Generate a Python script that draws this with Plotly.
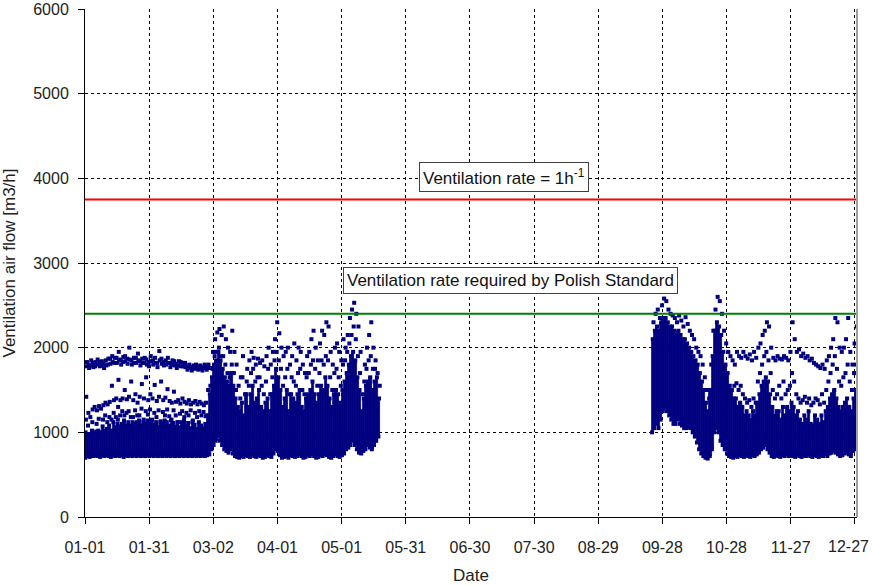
import plotly.graph_objects as go

# ---------------- data ----------------
tick_days = [0, 30, 60, 90, 120, 150, 180, 210, 240, 270, 300, 330, 360]
tick_labels = ["01-01", "01-31", "03-02", "04-01", "05-01", "05-31", "06-30",
               "07-30", "08-29", "09-28", "10-28", "11-27", "12-27"]

rate_1h = 3750          # ventilation rate = 1 h^-1
rate_standard = 2400    # rate required by Polish Standard

# heating season 1 (Jan - May): day index from 01-01
spring_start = 0
spring_lo = [700, 720, 710, 720, 720, 730, 720, 710, 730, 720,
             730, 720, 710, 730, 720, 730, 720, 730, 710, 730,
             720, 730, 720, 730, 720, 730, 720, 730, 720, 730,
             720, 730, 720, 730, 720, 730, 720, 730, 720, 730,
             720, 730, 720, 730, 720, 730, 720, 730, 720, 730,
             720, 730, 720, 730, 720, 730, 720, 730,
             740, 800, 850, 900, 950, 900, 850, 800, 780, 760,
             800, 750, 720, 710, 700, 720, 710, 730, 720, 710,
             740, 720, 710, 730, 720, 700, 710, 730, 720, 710,
             750, 800, 780, 730, 700, 710, 720, 700, 730, 720,
             710, 720, 740, 720, 700, 710, 730, 720, 750, 720,
             700, 710, 730, 720, 750, 730, 710, 700, 720, 740,
             720, 710, 730, 750, 800, 820, 850, 900, 850, 800,
             760, 750, 780, 800, 850, 820, 800, 850, 900, 950]
spring_hi = [1000, 970, 980, 1020, 990, 1010, 1020, 1000, 1070, 1020,
             1040, 1080, 1020, 1120, 1060, 1100, 1070, 1100, 1140, 1080,
             1120, 1080, 1120, 1100, 1120, 1140, 1080, 1120, 1100, 1140,
             1120, 1140, 1090, 1120, 1070, 1120, 1100, 1140, 1120, 1080,
             1140, 1110, 1070, 1120, 1060, 1120, 1140, 1080, 1110, 1050,
             1120, 1090, 1040, 1120, 1080, 1050, 1100, 1200,
             1450, 1650, 1800, 1850, 1950, 1850, 1750, 1650, 1600, 1550,
             1700, 1550, 1400, 1300, 1250, 1350, 1200, 1450, 1300, 1450,
             1550, 1350, 1400, 1500, 1300, 1250, 1350, 1400, 1250, 1450,
             1550, 1750, 1650, 1500, 1300, 1400, 1500, 1250, 1450, 1400,
             1350, 1450, 1500, 1300, 1250, 1400, 1450, 1500, 1600, 1450,
             1350, 1450, 1550, 1500, 1650, 1550, 1400, 1300, 1450, 1500,
             1450, 1350, 1500, 1600, 1700, 1800, 1900, 1950, 1850, 1650,
             1500, 1250, 1400, 1550, 1600, 1650, 1500, 1600, 1650, 1400]
spring_extra = [
    [1150, 1420, 1780, 1830], [1080, 1230, 1800, 1760], [1180, 1790, 1850], [1120, 1270, 1820, 1770],
    [1300, 1780, 1830], [1100, 1260, 1800, 1860], [1160, 1310, 1830, 1780], [1280, 1790, 1840],
    [1150, 1320, 1810, 1760], [1200, 1350, 1850, 1790], [1120, 1330, 1800, 1870], [1180, 1360, 1870, 1810],
    [1150, 1550, 1900, 1830], [1230, 1380, 1820, 1880], [1180, 1400, 1880, 1820], [1150, 1300, 1620, 1950, 1850],
    [1200, 1380, 1860, 1800], [1250, 1400, 1830, 1890], [1200, 1500, 1900, 1840], [1230, 1390, 1870, 1810],
    [1250, 1420, 2000, 1860], [1180, 1600, 1850, 1800], [1180, 1380, 1820, 1880], [1260, 1450, 1880, 1820],
    [1200, 1350, 1930, 1850], [1200, 1420, 1840, 1790], [1280, 1570, 1870, 1820], [1150, 1400, 1820, 1880],
    [1250, 1650, 1860, 1800], [1210, 1380, 1830, 1780], [1270, 1450, 1900, 1840], [1150, 1400, 1850, 1800],
    [1230, 1560, 1880, 1820], [1180, 1370, 1820, 1770], [1260, 1420, 1960, 1850], [1130, 1600, 1870, 1810],
    [1240, 1380, 1830, 1790], [1200, 1410, 1850, 1800], [1270, 1510, 1880, 1820], [1190, 1370, 1820, 1770],
    [1150, 1350, 1800, 1850], [1260, 1480, 1840, 1790], [1200, 1360, 1810, 1760], [1120, 1380, 1790, 1840],
    [1220, 1340, 1830, 1780], [1250, 1400, 1780, 1820], [1180, 1360, 1820, 1770], [1230, 1340, 1780, 1740],
    [1200, 1380, 1800, 1760], [1260, 1330, 1770, 1730], [1140, 1350, 1790, 1750], [1230, 1370, 1760, 1800],
    [1180, 1330, 1780, 1740], [1250, 1360, 1750, 1790], [1200, 1340, 1770, 1730], [1240, 1320, 1760, 1800],
    [1190, 1350, 1780, 1740], [1200, 1500, 1800, 1760],
    [1550, 1760], [1750, 1950], [1900, 2100], [1950, 2180], [2000, 2220], [1900, 2150], [1900, 2250],
    [1800, 2100], [1700, 2000], [1650, 1950], [1800, 2200], [1700, 1950], [1500, 1800], [1550],
    [1400, 1650], [1650, 1900], [1450], [1600, 1750], [1550, 1850], [1700, 1950], [1750, 1880],
    [1600, 1800], [1650, 1870], [1650, 1820], [1550, 1850], [1450, 1780], [1600, 1900], [1750, 2000],
    [1450, 1800], [1650, 1950], [1850, 2100], [1950, 2300], [1850, 2170], [1750, 2000], [1550, 1900],
    [1650, 1950], [1750, 2000], [1450, 1800], [1650, 1900], [1600, 2050], [1550, 1850], [1700, 2000],
    [1750, 1950], [1500, 1800], [1450, 1700], [1650, 1900], [1700, 1950], [1800, 2100], [1850, 2200],
    [1750, 2000], [1550, 1850], [1700, 2050], [1850, 2200], [1800, 2150], [1900, 2300], [1850, 2250],
    [1650, 1950], [1500, 1800], [1700, 2000], [1750, 2050], [1650, 1950], [1550, 1850], [1800, 2100],
    [1850, 2000], [1950, 2150], [2050, 2350], [2150, 2450], [2250, 2530], [2100, 2400], [1900, 2250],
    [1700, 1950], [1450], [1600, 1800], [1750, 2000], [1850, 2150], [1900, 2300], [1750, 2000],
    [1750, 1850], [1700], [1550]]

# heating season 2 (Sep - Dec)
autumn_start = 265
autumn_lo = [1000, 1050, 1100, 1050, 1150, 1250, 1300, 1250, 1200, 1150,
             1100, 1100, 1150, 1100, 1080, 1050, 1050, 1060, 1050, 1000,
             950, 880, 800, 750, 720, 700, 690, 720, 800, 1000,
             1050, 1000, 900, 850, 800, 750, 720, 710, 700, 720,
             710, 730, 720, 710, 730, 720, 710, 730, 720, 740,
             760, 800, 820, 850, 800, 760, 720, 710, 730, 720,
             710, 730, 720, 740, 720, 730, 720, 710, 730, 720,
             710, 730, 720, 740, 720, 710, 730, 720, 710, 730,
             720, 740, 720, 750, 760, 780, 760, 740, 720, 730,
             750, 760, 740, 720, 780, 800]
autumn_hi = [2100, 2200, 2250, 2200, 2300, 2350, 2350, 2300, 2250, 2250,
             2200, 2150, 2200, 2150, 2100, 2100, 2050, 2000, 1950, 1900,
             1850, 1800, 1700, 1600, 1500, 1350, 1250, 1500, 1900, 2200,
             2300, 2250, 2150, 1950, 1800, 1700, 1550, 1500, 1400, 1400,
             1300, 1350, 1300, 1200, 1250, 1200, 1150, 1250, 1200, 1350,
             1450, 1550, 1600, 1650, 1600, 1450, 1300, 1200, 1250, 1250,
             1150, 1300, 1200, 1300, 1250, 1350, 1300, 1200, 1250, 1150,
             1100, 1200, 1150, 1250, 1100, 1080, 1200, 1150, 1100, 1200,
             1120, 1250, 1300, 1400, 1450, 1500, 1400, 1300, 1250, 1300,
             1350, 1400, 1300, 1250, 1400, 1500]
autumn_extra = [
    [2300], [2400], [2450], [2350], [2500], [2580], [2550], [2450], [2400], [2380],
    [2350], [2300], [2380], [2320], [2250], [2360], [2280], [2200], [2150], [2100],
    [2000], [1950], [1900], [1800], [1650], [1500], [1400], [1800], [2200], [2450],
    [2600], [2550], [2400], [2200], [2050], [1950], [1900], [1850], [1550, 1800], [1580, 1950],
    [1500, 1900], [1550, 1880], [1450, 1950], [1400, 1900], [1350, 1870], [1380, 1920], [1300, 1850],
    [1400, 1950], [1350, 1880], [1600, 2000],
    [1700, 2050], [1800, 2150], [1900, 2200], [1950, 2300], [1850, 2250], [1700, 2000], [1500, 1880],
    [1400, 1850], [1450, 1900], [1550, 1870],
    [1400, 1860], [1600, 1900], [1450, 1880], [1500, 1850], [1550, 1950], [1700, 2300], [1600, 2100],
    [1450, 1950], [1400, 1980], [1350, 1900],
    [1380, 1930], [1420, 1880], [1350, 1900], [1400, 1850], [1320, 1870], [1350, 1820], [1400, 1800],
    [1380, 1780], [1330, 1760], [1450, 1800],
    [1350, 1750], [1500, 1850], [1600, 1900], [1700, 2000], [1800, 2100], [1900, 2350], [1750, 2300],
    [1600, 2000], [1550, 1950], [1650, 2000],
    [1700, 2100], [1800, 2350], [1600, 1950], [1500, 1800], [1700, 2050], [1800, 2250]]

NAVY = "#000080"
FONT = "Liberation Sans, Arial, sans-serif"

fig = go.Figure()

for start, lo, hi, extra in [(spring_start, spring_lo, spring_hi, spring_extra),
                             (autumn_start, autumn_lo, autumn_hi, autumn_extra)]:
    # dense core of the hourly cloud
    fig.add_trace(go.Bar(
        x=[start + i + 0.5 for i in range(len(lo))],
        y=[h - l for l, h in zip(lo, hi)],
        base=lo, width=1.0,
        marker=dict(color=NAVY, line=dict(width=0.8, color=NAVY)),
        showlegend=False, hoverinfo="skip"))
    # individual points
    xs, ys = [], []
    for i, (l, h, ex) in enumerate(zip(lo, hi, extra)):
        vals = [l, h] + list(ex)
        n = len(vals)
        for k, v in enumerate(vals):
            xs.append(start + i + (k + 0.5) / n)
            ys.append(v)
    fig.add_trace(go.Scatter(
        x=xs, y=ys, mode="markers",
        marker=dict(symbol="square", size=4, color=NAVY, line=dict(width=0)),
        showlegend=False, hoverinfo="skip"))

# reference lines
fig.add_trace(go.Scatter(x=[0, 361], y=[rate_1h, rate_1h], mode="lines",
                         line=dict(color="#ff0000", width=2), showlegend=False))
fig.add_trace(go.Scatter(x=[0, 361], y=[rate_standard, rate_standard], mode="lines",
                         line=dict(color="#008000", width=2), showlegend=False))

fig.add_annotation(x=196, y=4020, text="Ventilation rate = 1h<sup>-1</sup>",
                   showarrow=False, font=dict(family=FONT, size=17, color="#111"),
                   bgcolor="white", bordercolor="#404040", borderwidth=1, borderpad=3)
fig.add_annotation(x=199, y=2790, text="Ventilation rate required by Polish Standard",
                   showarrow=False, font=dict(family=FONT, size=17, color="#111"),
                   bgcolor="white", bordercolor="#404040", borderwidth=1, borderpad=3)

# last tick label sits at the very right edge: draw it right-aligned so it stays inside
shown_ticktext = tick_labels[:-1] + [""]
fig.add_annotation(xref="paper", yref="paper", x=1.018, y=-0.059,
                   xanchor="right", yanchor="middle", showarrow=False,
                   text=tick_labels[-1], font=dict(family=FONT, size=16, color="#222"))

# right frame line
fig.add_shape(type="line", xref="paper", yref="paper", x0=1, x1=1, y0=0, y1=1,
              line=dict(color="#a0a0a0", width=2))

fig.update_layout(
    width=872, height=585,
    margin=dict(l=85, r=15, t=9, b=68),
    paper_bgcolor="white", plot_bgcolor="white",
    barmode="overlay", bargap=0,
    font=dict(family=FONT, size=16, color="#222"),
    showlegend=False,
)
fig.update_xaxes(
    range=[0, 361], tickvals=tick_days, ticktext=shown_ticktext,
    automargin=False,
    showgrid=True, gridcolor="black", griddash="3px,3px", gridwidth=1,
    showline=True, linecolor="black", linewidth=1,
    ticks="outside", ticklen=6, tickcolor="black",
    ticklabelstandoff=10,
    zeroline=False,
    title=dict(text="Date", font=dict(family=FONT, size=17, color="#222"), standoff=13),
)
fig.update_yaxes(
    range=[0, 6000], tickvals=[0, 1000, 2000, 3000, 4000, 5000, 6000],
    automargin=False,
    showgrid=True, gridcolor="black", griddash="3px,3px", gridwidth=1,
    showline=True, linecolor="black", linewidth=1,
    ticks="outside", ticklen=6, tickcolor="black",
    ticklabelstandoff=6,
    zeroline=False,
    title=dict(text="Ventilation air flow [m3/h]", font=dict(family=FONT, size=17, color="#222"),
               standoff=15),
)

# remove the browser's default 8 px body margin so the figure sits at the page origin
fig.write_html("out.html", config={"displayModeBar": False},
               post_script="document.body.style.margin='0';")
